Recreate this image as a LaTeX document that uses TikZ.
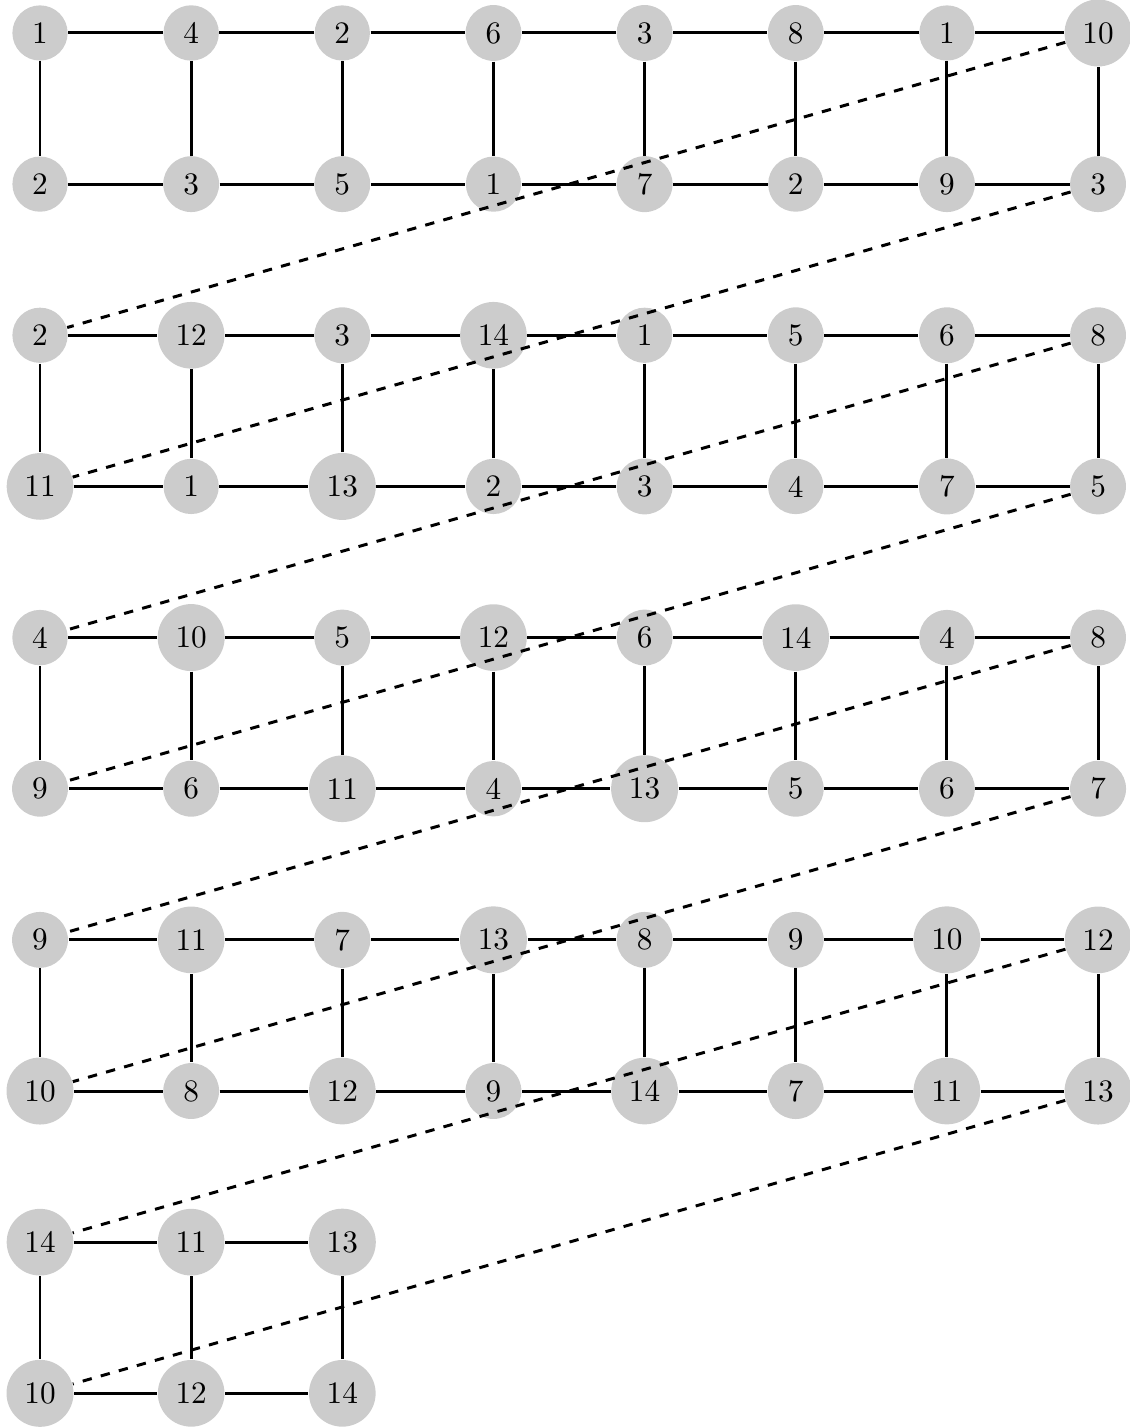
\documentclass[tikz,border=0pt]{standalone}
\tikzset{
  vtx/.style={circle,fill=gray!40,inner sep=0.3333em},
  edge/.style={line width=0.95pt},
  wrap/.style={line width=0.95pt,dashed}
}
\begin{document}
\begin{tikzpicture}[x=1.7cm,y=-1.7cm]
\useasboundingbox (-0.45cm,0.371cm) rectangle (12.25cm,-15.69cm);
\foreach \r/\labs in {
  0/{1,4,2,6,3,8,1,10},
  1/{2,3,5,1,7,2,9,3},
  2/{2,12,3,14,1,5,6,8},
  3/{11,1,13,2,3,4,7,5},
  4/{4,10,5,12,6,14,4,8},
  5/{9,6,11,4,13,5,6,7},
  6/{9,11,7,13,8,9,10,12},
  7/{10,8,12,9,14,7,11,13},
  8/{14,11,13},
  9/{10,12,14}}{
  \foreach \lab [count=\c from 0] in \labs
    \node[vtx] (n\r-\c) at (\c,\r) {\lab};
}
% horizontal edges
\foreach \r in {0,...,7}{
  \foreach \c in {0,...,6}{
    \pgfmathtruncatemacro{\nc}{\c+1}
    \draw[edge] (n\r-\c) -- (n\r-\nc);
  }
}
\foreach \r in {8,9}{
  \foreach \c in {0,1}{
    \pgfmathtruncatemacro{\nc}{\c+1}
    \draw[edge] (n\r-\c) -- (n\r-\nc);
  }
}
% vertical edges
\foreach \r in {0,2,4,6}{
  \pgfmathtruncatemacro{\nr}{\r+1}
  \foreach \c in {0,...,7}
    \draw[edge] (n\r-\c) -- (n\nr-\c);
}
\foreach \c in {0,1,2}
  \draw[edge] (n8-\c) -- (n9-\c);
% wrap-around dashed edges
\foreach \r in {0,...,7}{
  \pgfmathtruncatemacro{\nr}{\r+2}
  \draw[wrap] (n\r-7) -- (n\nr-0);
}
\end{tikzpicture}
\end{document}
